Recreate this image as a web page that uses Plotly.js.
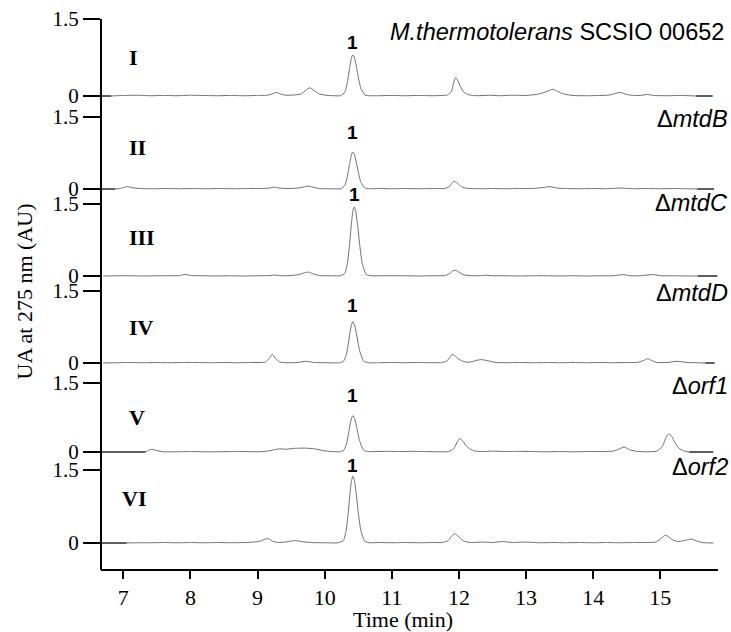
<!DOCTYPE html>
<html>
<head>
<meta charset="utf-8">
<script src="https://cdn.plot.ly/plotly-3.0.1.min.js"></script>
<style>html,body{margin:0;padding:0;background:#fff;}#chart{width:731px;height:632px;}</style>
</head>
<body>
<div id="chart"></div>
<script>
// ---- data ----
const panelLabels = ['I', 'II', 'III', 'IV', 'V', 'VI'];
const strainLabels = ['Δ<i>mtdB</i>', 'Δ<i>mtdC</i>', 'Δ<i>mtdD</i>', 'Δ<i>orf1</i>', 'Δ<i>orf2</i>'];
const titleText = '<i>M.thermotolerans</i> SCSIO 00652';
const peakLabel = '1';
const peakTime = [10.42, 10.42, 10.44, 10.42, 10.42, 10.42];
const xTickVals = [7, 8, 9, 10, 11, 12, 13, 14, 15];
const yTickVals = [0, 1.5];
const yTickText = ['0', '1.5'];

const time1 = [6.82, 6.9, 7.0, 7.2, 7.4, 7.6, 7.8, 8.0, 8.2, 8.4, 8.6, 8.8, 9.0, 9.15, 9.22, 9.28, 9.34, 9.42, 9.55, 9.65, 9.72, 9.78, 9.84, 9.92, 10.05, 10.15, 10.24, 10.30, 10.34, 10.37, 10.40, 10.42, 10.44, 10.47, 10.50, 10.54, 10.60, 10.67, 10.8, 11.0, 11.2, 11.4, 11.6, 11.75, 11.83, 11.89, 11.92, 11.95, 11.98, 12.02, 12.07, 12.13, 12.20, 12.3, 12.45, 12.6, 12.8, 13.0, 13.15, 13.25, 13.33, 13.40, 13.47, 13.56, 13.7, 13.9, 14.1, 14.25, 14.33, 14.40, 14.47, 14.56, 14.7, 14.81, 14.9, 15.1, 15.3, 15.53];
const abs1  = [0.0, 0.005, 0.01, 0.015, 0.005, 0.01, 0.005, 0.015, 0.01, 0.005, 0.01, 0.005, 0.01, 0.015, 0.04, 0.07, 0.04, 0.015, 0.02, 0.04, 0.11, 0.16, 0.11, 0.04, 0.01, 0.005, 0.005, 0.075, 0.28, 0.53, 0.75, 0.80, 0.76, 0.60, 0.375, 0.145, 0.02, 0.005, 0.005, 0.01, 0.005, 0.01, 0.005, 0.01, 0.02, 0.09, 0.25, 0.36, 0.31, 0.19, 0.08, 0.03, 0.01, 0.005, 0.015, 0.005, 0.015, 0.01, 0.03, 0.06, 0.10, 0.13, 0.09, 0.04, 0.01, 0.005, 0.01, 0.02, 0.05, 0.07, 0.04, 0.015, 0.01, 0.03, 0.01, 0.005, 0.01, 0.0];

const time2 = [6.88, 6.95, 7.0, 7.06, 7.12, 7.25, 7.45, 7.65, 7.85, 8.05, 8.25, 8.45, 8.65, 8.85, 9.05, 9.18, 9.25, 9.32, 9.45, 9.6, 9.68, 9.75, 9.82, 9.92, 10.1, 10.24, 10.30, 10.34, 10.37, 10.40, 10.42, 10.44, 10.47, 10.50, 10.54, 10.60, 10.67, 10.8, 11.0, 11.2, 11.4, 11.6, 11.78, 11.85, 11.89, 11.92, 11.96, 12.0, 12.05, 12.12, 12.2, 12.35, 12.5, 12.7, 12.9, 13.1, 13.25, 13.36, 13.46, 13.6, 13.8, 14.0, 14.2, 14.4, 14.6, 14.8, 15.0, 15.2, 15.4, 15.55];
const abs2  = [0.0, 0.01, 0.03, 0.05, 0.03, 0.01, 0.005, 0.01, 0.005, 0.01, 0.005, 0.01, 0.005, 0.01, 0.01, 0.02, 0.04, 0.02, 0.01, 0.02, 0.04, 0.06, 0.04, 0.01, 0.005, 0.005, 0.07, 0.27, 0.51, 0.72, 0.77, 0.73, 0.57, 0.36, 0.14, 0.02, 0.005, 0.01, 0.005, 0.01, 0.005, 0.01, 0.01, 0.04, 0.11, 0.16, 0.14, 0.09, 0.04, 0.015, 0.01, 0.005, 0.01, 0.005, 0.01, 0.01, 0.03, 0.05, 0.02, 0.01, 0.005, 0.01, 0.005, 0.02, 0.005, 0.01, 0.005, 0.01, 0.005, 0.0];

const time3 = [6.70, 6.9, 7.1, 7.3, 7.5, 7.7, 7.85, 7.92, 8.0, 8.2, 8.4, 8.6, 8.8, 9.0, 9.2, 9.25, 9.35, 9.5, 9.62, 9.70, 9.76, 9.82, 9.92, 10.1, 10.24, 10.30, 10.34, 10.37, 10.40, 10.42, 10.44, 10.46, 10.49, 10.52, 10.56, 10.62, 10.70, 10.8, 11.0, 11.2, 11.4, 11.6, 11.8, 11.87, 11.91, 11.95, 12.0, 12.06, 12.15, 12.3, 12.4, 12.5, 12.7, 12.9, 13.1, 13.3, 13.5, 13.7, 13.9, 14.1, 14.3, 14.45, 14.55, 14.7, 14.9, 15.0, 15.2, 15.4, 15.56];
const abs3  = [0.0, 0.005, 0.005, 0.0, 0.005, 0.005, 0.01, 0.035, 0.01, 0.005, 0.0, 0.005, 0.0, 0.005, 0.01, 0.02, 0.005, 0.01, 0.03, 0.07, 0.08, 0.05, 0.01, 0.005, 0.005, 0.056, 0.28, 0.64, 1.11, 1.35, 1.44, 1.37, 1.07, 0.675, 0.26, 0.03, 0.005, 0.005, 0.005, 0.005, 0.0, 0.005, 0.01, 0.06, 0.11, 0.12, 0.08, 0.03, 0.01, 0.005, 0.015, 0.005, 0.005, 0.0, 0.005, 0.005, 0.0, 0.005, 0.0, 0.005, 0.005, 0.03, 0.005, 0.005, 0.03, 0.005, 0.005, 0.0, 0.0];

const time4 = [6.70, 6.9, 7.1, 7.3, 7.5, 7.7, 7.9, 8.1, 8.3, 8.5, 8.7, 8.9, 9.05, 9.12, 9.17, 9.22, 9.27, 9.33, 9.45, 9.6, 9.72, 9.85, 10.05, 10.22, 10.28, 10.32, 10.35, 10.38, 10.40, 10.42, 10.45, 10.48, 10.52, 10.58, 10.65, 10.8, 11.0, 11.2, 11.4, 11.6, 11.75, 11.82, 11.87, 11.90, 11.94, 11.99, 12.05, 12.12, 12.2, 12.28, 12.34, 12.42, 12.55, 12.7, 12.9, 13.1, 13.3, 13.5, 13.7, 13.9, 14.1, 14.3, 14.5, 14.65, 14.75, 14.81, 14.87, 14.95, 15.1, 15.25, 15.4, 15.55, 15.67];
const abs4  = [0.0, 0.005, 0.01, 0.005, 0.01, 0.005, 0.01, 0.01, 0.005, 0.01, 0.005, 0.01, 0.01, 0.02, 0.09, 0.18, 0.09, 0.02, 0.005, 0.01, 0.035, 0.01, 0.005, 0.004, 0.034, 0.16, 0.38, 0.66, 0.80, 0.86, 0.77, 0.56, 0.26, 0.04, 0.005, 0.005, 0.01, 0.005, 0.01, 0.005, 0.01, 0.04, 0.13, 0.18, 0.15, 0.09, 0.04, 0.015, 0.03, 0.06, 0.07, 0.05, 0.01, 0.005, 0.01, 0.005, 0.01, 0.005, 0.01, 0.005, 0.01, 0.005, 0.01, 0.01, 0.05, 0.09, 0.05, 0.01, 0.01, 0.035, 0.01, 0.005, 0.0];

const time5 = [7.33, 7.38, 7.43, 7.5, 7.6, 7.8, 8.0, 8.2, 8.4, 8.6, 8.8, 9.0, 9.15, 9.25, 9.33, 9.42, 9.55, 9.7, 9.85, 9.98, 10.1, 10.22, 10.28, 10.32, 10.35, 10.38, 10.40, 10.42, 10.45, 10.48, 10.52, 10.58, 10.65, 10.75, 10.9, 11.1, 11.3, 11.5, 11.7, 11.85, 11.92, 11.97, 12.01, 12.05, 12.10, 12.16, 12.24, 12.35, 12.5, 12.7, 12.9, 13.1, 13.3, 13.5, 13.7, 13.9, 14.1, 14.3, 14.38, 14.46, 14.54, 14.65, 14.8, 14.95, 15.03, 15.09, 15.13, 15.17, 15.22, 15.28, 15.36, 15.43];
const abs5  = [0.0, 0.04, 0.06, 0.03, 0.005, 0.005, 0.01, 0.005, 0.005, 0.01, 0.01, 0.005, 0.02, 0.05, 0.07, 0.06, 0.08, 0.085, 0.07, 0.03, 0.01, 0.005, 0.03, 0.15, 0.35, 0.61, 0.74, 0.79, 0.71, 0.51, 0.25, 0.04, 0.01, 0.01, 0.015, 0.01, 0.015, 0.01, 0.005, 0.01, 0.07, 0.20, 0.29, 0.25, 0.15, 0.07, 0.02, 0.01, 0.02, 0.01, 0.015, 0.01, 0.005, 0.01, 0.005, 0.01, 0.01, 0.02, 0.06, 0.11, 0.05, 0.015, 0.005, 0.02, 0.12, 0.33, 0.40, 0.34, 0.20, 0.08, 0.02, 0.0];

const time6 = [7.05, 7.2, 7.4, 7.6, 7.8, 8.0, 8.2, 8.4, 8.6, 8.8, 8.95, 9.05, 9.11, 9.16, 9.22, 9.3, 9.42, 9.5, 9.57, 9.65, 9.8, 10.0, 10.2, 10.28, 10.32, 10.35, 10.38, 10.40, 10.42, 10.44, 10.47, 10.50, 10.54, 10.60, 10.68, 10.8, 11.0, 11.2, 11.4, 11.6, 11.75, 11.84, 11.89, 11.94, 11.99, 12.05, 12.12, 12.2, 12.35, 12.5, 12.65, 12.8, 13.0, 13.2, 13.4, 13.6, 13.8, 14.0, 14.2, 14.4, 14.6, 14.8, 14.93, 15.0, 15.05, 15.08, 15.12, 15.18, 15.26, 15.35, 15.42, 15.47, 15.53, 15.62, 15.79];
const abs6  = [0.0, 0.005, 0.005, 0.01, 0.005, 0.01, 0.005, 0.01, 0.005, 0.01, 0.02, 0.04, 0.08, 0.09, 0.04, 0.01, 0.02, 0.04, 0.05, 0.03, 0.01, 0.005, 0.005, 0.053, 0.26, 0.61, 1.05, 1.28, 1.37, 1.31, 1.02, 0.64, 0.25, 0.03, 0.005, 0.01, 0.005, 0.01, 0.005, 0.01, 0.01, 0.05, 0.14, 0.19, 0.14, 0.06, 0.02, 0.01, 0.02, 0.01, 0.03, 0.01, 0.02, 0.005, 0.01, 0.005, 0.01, 0.005, 0.01, 0.005, 0.01, 0.01, 0.02, 0.08, 0.14, 0.16, 0.13, 0.07, 0.03, 0.05, 0.07, 0.08, 0.05, 0.01, 0.0];

// darker baseline marker segments at the trace ends
const mark1X = [6.67, 6.82, null, 15.53, 15.78];
const mark2X = [6.67, 6.88, null, 15.55, 15.80];
const mark3X = [15.56, 15.85];
const mark4X = [15.67, 15.81];
const mark5X = [6.67, 7.33, null, 15.43, 15.79];
const mark6X = [6.67, 7.05];

// ---- layout geometry ----
const times = [time1, time2, time3, time4, time5, time6];
const absv = [abs1, abs2, abs3, abs4, abs5, abs6];
const marks = [mark1X, mark2X, mark3X, mark4X, mark5X, mark6X];
const domains = [[0.8208, 0.9757], [0.6583, 0.8032], [0.5057, 0.6505], [0.3531, 0.4979], [0.1973, 0.3361], [0.0371, 0.1840]];
const labelY = [0.8991, 0.7404, 0.5825, 0.4246, 0.2667, 0.1263];
const labelX = [7.055, 7.055, 7.055, 7.055, 7.055, 6.95];
const peakLabelY = [0.9246, 0.7667, 0.6596, 0.4649, 0.3053, 0.1842];
const strainY = [0.7912, 0.6439, 0.4860, 0.3228, 0.1807];

const serif = 'Liberation Serif, Times New Roman, serif';
const sans = 'Liberation Sans, Arial, sans-serif';

const data = [];
const layout = {
  width: 731, height: 632,
  margin: {l: 101, r: 13, t: 0, b: 62},
  paper_bgcolor: '#fff', plot_bgcolor: 'rgba(0,0,0,0)',
  showlegend: false,
  xaxis: {
    range: [6.668, 15.86], anchor: 'free', position: 0,
    tickvals: xTickVals, ticks: 'outside', ticklen: 8, tickwidth: 2, tickcolor: '#000',
    showline: true, linewidth: 2, linecolor: '#000', showgrid: false, zeroline: false,
    tickfont: {family: serif, size: 22, color: '#000'}
  },
  annotations: [],
  shapes: [{type: 'line', xref: 'paper', yref: 'paper', x0: 0, x1: 0, y0: 0, y1: 0.9667, line: {color: '#000', width: 2}}]
};

for (let i = 0; i < 6; i++) {
  const yName = i === 0 ? 'y' : 'y' + (i + 1);
  const axKey = i === 0 ? 'yaxis' : 'yaxis' + (i + 1);
  layout[axKey] = {
    domain: domains[i], range: [-0.12, 1.6], anchor: 'x',
    tickvals: yTickVals, ticktext: yTickText, ticks: 'outside', ticklen: 17, tickwidth: 2, tickcolor: '#000',
    showline: false, showgrid: false, zeroline: false,
    tickfont: {family: serif, size: 21, color: '#000'}
  };
  data.push({x: times[i], y: absv[i], xaxis: 'x', yaxis: yName, type: 'scatter', mode: 'lines',
    line: {color: '#6e6e6e', width: 1, shape: 'spline', smoothing: 0.5}, hoverinfo: 'skip'});
  data.push({x: marks[i], y: marks[i].map(v => v === null ? null : 0), xaxis: 'x', yaxis: yName, type: 'scatter', mode: 'lines',
    line: {color: '#2a2a2a', width: 1.6}, connectgaps: false, hoverinfo: 'skip'});
  layout.annotations.push({text: '<b>' + panelLabels[i] + '</b>', xref: 'x', yref: 'paper', x: labelX[i], y: labelY[i],
    xanchor: 'left', yanchor: 'middle', showarrow: false, font: {family: serif, size: 22, color: '#000'}});
  layout.annotations.push({text: '<b>' + peakLabel + '</b>', xref: 'x', yref: 'paper', x: peakTime[i], y: peakLabelY[i],
    xanchor: 'center', yanchor: 'middle', showarrow: false, font: {family: sans, size: 19, color: '#000'}});
}
for (let i = 0; i < strainLabels.length; i++) {
  layout.annotations.push({text: strainLabels[i], xref: 'paper', yref: 'paper', x: 1.0194, y: strainY[i],
    xanchor: 'right', yanchor: 'middle', showarrow: false, font: {family: sans, size: 23.5, color: '#000'}});
}
layout.annotations.push({text: titleText, xref: 'paper', yref: 'paper', x: 1.0129, y: 0.9439,
  xanchor: 'right', yanchor: 'middle', showarrow: false, font: {family: sans, size: 23.5, color: '#000'}});
layout.annotations.push({text: 'UA at 275 nm (AU)', xref: 'paper', yref: 'paper', x: -0.1232, y: 0.4886,
  xanchor: 'center', yanchor: 'middle', textangle: -90, showarrow: false, font: {family: serif, size: 22, color: '#000'}});
layout.annotations.push({text: 'Time (min)', xref: 'paper', yref: 'paper', x: 0.4895, y: -0.0868,
  xanchor: 'center', yanchor: 'middle', showarrow: false, font: {family: serif, size: 22, color: '#000'}});

Plotly.newPlot('chart', data, layout, {staticPlot: true, displayModeBar: false});
</script>
</body>
</html>
